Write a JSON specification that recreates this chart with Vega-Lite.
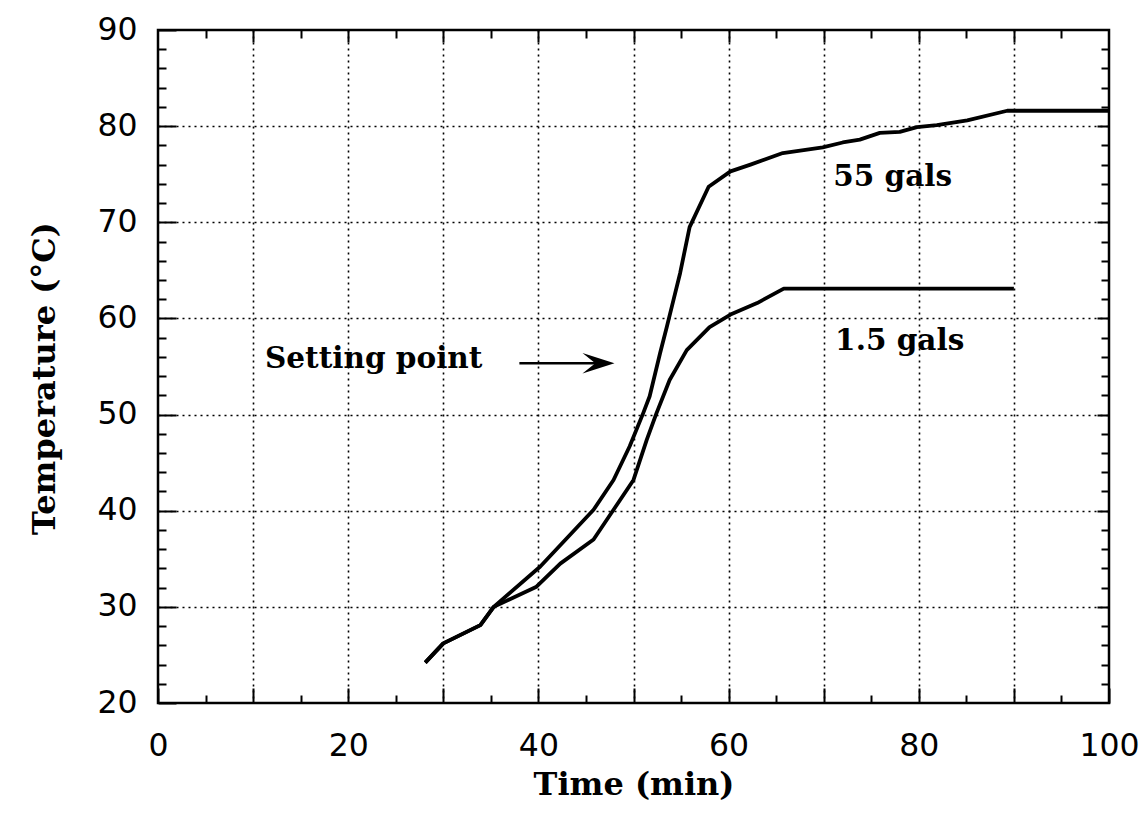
{
  "$schema": "https://vega.github.io/schema/vega-lite/v6.json",
  "width": 951,
  "height": 673,
  "autosize": {"type": "none"},
  "padding": {"left": 158, "top": 30, "right": 36, "bottom": 117},
  "background": "white",
  "config": {
    "view": {"stroke": "black", "strokeWidth": 2.5},
    "axis": {
      "domain": false,
      "labelFont": "DejaVu Sans",
      "labelFontSize": 31.5,
      "labelColor": "black",
      "titleFont": "DejaVu Serif",
      "titleFontWeight": "bold",
      "titleFontSize": 32,
      "titleColor": "black",
      "tickColor": "black",
      "tickWidth": 2,
      "gridColor": "black",
      "gridDash": [2, 4],
      "gridWidth": 1.6
    }
  },
  "datasets": {
    "curves": [
      {"series": "55 gals", "t": 28.1, "temp": 24.2},
      {"series": "55 gals", "t": 30.0, "temp": 26.2},
      {"series": "55 gals", "t": 33.9, "temp": 28.1},
      {"series": "55 gals", "t": 35.3, "temp": 30.0},
      {"series": "55 gals", "t": 40.2, "temp": 34.2},
      {"series": "55 gals", "t": 45.8, "temp": 40.1},
      {"series": "55 gals", "t": 47.9, "temp": 43.2},
      {"series": "55 gals", "t": 49.6, "temp": 46.7},
      {"series": "55 gals", "t": 51.0, "temp": 50.1},
      {"series": "55 gals", "t": 51.7, "temp": 51.9},
      {"series": "55 gals", "t": 52.8, "temp": 56.4},
      {"series": "55 gals", "t": 53.5, "temp": 59.1},
      {"series": "55 gals", "t": 54.2, "temp": 61.9},
      {"series": "55 gals", "t": 54.9, "temp": 64.7},
      {"series": "55 gals", "t": 55.9, "temp": 69.5},
      {"series": "55 gals", "t": 57.9, "temp": 73.7},
      {"series": "55 gals", "t": 60.2, "temp": 75.3},
      {"series": "55 gals", "t": 62.3, "temp": 76.0},
      {"series": "55 gals", "t": 65.7, "temp": 77.2},
      {"series": "55 gals", "t": 69.9, "temp": 77.8},
      {"series": "55 gals", "t": 72.0, "temp": 78.3},
      {"series": "55 gals", "t": 73.8, "temp": 78.6},
      {"series": "55 gals", "t": 75.9, "temp": 79.3},
      {"series": "55 gals", "t": 78.0, "temp": 79.4},
      {"series": "55 gals", "t": 79.8, "temp": 79.9},
      {"series": "55 gals", "t": 81.9, "temp": 80.1},
      {"series": "55 gals", "t": 85.1, "temp": 80.6},
      {"series": "55 gals", "t": 89.3, "temp": 81.6},
      {"series": "55 gals", "t": 100.0, "temp": 81.6},
      {"series": "1.5 gals", "t": 28.1, "temp": 24.2},
      {"series": "1.5 gals", "t": 30.0, "temp": 26.2},
      {"series": "1.5 gals", "t": 33.9, "temp": 28.1},
      {"series": "1.5 gals", "t": 35.3, "temp": 30.0},
      {"series": "1.5 gals", "t": 39.8, "temp": 32.1},
      {"series": "1.5 gals", "t": 42.3, "temp": 34.5},
      {"series": "1.5 gals", "t": 45.8, "temp": 37.0},
      {"series": "1.5 gals", "t": 47.9, "temp": 40.1},
      {"series": "1.5 gals", "t": 50.0, "temp": 43.2},
      {"series": "1.5 gals", "t": 51.4, "temp": 47.4},
      {"series": "1.5 gals", "t": 52.4, "temp": 50.1},
      {"series": "1.5 gals", "t": 53.8, "temp": 53.6},
      {"series": "1.5 gals", "t": 55.6, "temp": 56.7},
      {"series": "1.5 gals", "t": 58.0, "temp": 59.1},
      {"series": "1.5 gals", "t": 60.2, "temp": 60.4},
      {"series": "1.5 gals", "t": 63.0, "temp": 61.6},
      {"series": "1.5 gals", "t": 65.8, "temp": 63.1},
      {"series": "1.5 gals", "t": 90.0, "temp": 63.1}
    ],
    "labels": [
      {"x": 71.0, "y": 73.8, "label": "55 gals"},
      {"x": 71.2, "y": 56.7, "label": "1.5 gals"},
      {"x": 11.25, "y": 54.85, "label": "Setting point"}
    ],
    "arrow": [
      {"x": 38.0, "x2": 46.5, "y": 55.35, "tip": 48.0}
    ]
  },
  "layer": [
    {
      "data": {"name": "curves"},
      "mark": {"type": "line", "color": "black", "strokeWidth": 3.8, "strokeJoin": "round"},
      "encoding": {
        "x": {
          "field": "t", "type": "quantitative",
          "scale": {"domain": [0, 100], "nice": false, "zero": false},
          "axis": {
            "orient": "bottom",
            "title": "Time (min)",
            "titleY": 81,
            "titleBaseline": "middle",
            "values": [0,5,10,15,20,25,30,35,40,45,50,55,60,65,70,75,80,85,90,95,100],
            "labelExpr": "datum.value % 20 === 0 ? datum.label : ''",
            "tickSize": {"condition": {"test": "datum.value % 10 === 0", "value": -15}, "value": -8},
            "gridOpacity": {"condition": {"test": "datum.value % 10 === 0 && datum.value > 0 && datum.value < 100", "value": 1}, "value": 0},
            "labelPadding": 42,
            "labelFlush": false,
            "labelOverlap": false
          }
        },
        "y": {
          "field": "temp", "type": "quantitative",
          "scale": {"domain": [20, 90], "nice": false, "zero": false},
          "axis": {
            "orient": "left",
            "title": "Temperature (°C)",
            "titleX": -114,
            "titleY": 348,
            "titleBaseline": "middle",
            "values": [20,22,24,26,28,30,32,34,36,38,40,42,44,46,48,50,52,54,56,58,60,62,64,66,68,70,72,74,76,78,80,82,84,86,88,90],
            "labelExpr": "datum.value % 10 === 0 ? datum.label : ''",
            "tickSize": {"condition": {"test": "datum.value % 10 === 0", "value": -18}, "value": -8},
            "gridOpacity": {"condition": {"test": "datum.value % 10 === 0 && datum.value > 20 && datum.value < 90", "value": 1}, "value": 0},
            "labelPadding": 39,
            "labelFlush": false,
            "labelOverlap": false
          }
        },
        "detail": {"field": "series", "type": "nominal"}
      }
    },
    {
      "data": {"name": "labels"},
      "mark": {"type": "text", "font": "DejaVu Serif", "fontWeight": "bold", "fontSize": 29.5, "align": "left", "baseline": "alphabetic", "color": "black"},
      "encoding": {
        "x": {
          "field": "x", "type": "quantitative",
          "scale": {"domain": [0, 100], "nice": false, "zero": false},
          "axis": {
            "orient": "top", "title": null, "labels": false, "grid": false,
            "values": [5,10,15,20,25,30,35,40,45,50,55,60,65,70,75,80,85,90,95],
            "tickSize": {"condition": {"test": "datum.value % 10 === 0", "value": -12}, "value": -8}
          }
        },
        "y": {
          "field": "y", "type": "quantitative",
          "scale": {"domain": [20, 90], "nice": false, "zero": false},
          "axis": {
            "orient": "right", "title": null, "labels": false, "grid": false,
            "values": [22,24,26,28,30,32,34,36,38,40,42,44,46,48,50,52,54,56,58,60,62,64,66,68,70,72,74,76,78,80,82,84,86,88],
            "tickSize": {"condition": {"test": "datum.value % 10 === 0", "value": -12}, "value": -8}
          }
        },
        "text": {"field": "label"}
      }
    },
    {
      "data": {"name": "arrow"},
      "mark": {"type": "rule", "color": "black", "strokeWidth": 2.5},
      "encoding": {
        "x": {"field": "x", "type": "quantitative", "scale": {"domain": [0, 100], "nice": false, "zero": false}, "axis": null},
        "x2": {"field": "x2"},
        "y": {"field": "y", "type": "quantitative", "scale": {"domain": [20, 90], "nice": false, "zero": false}, "axis": null}
      }
    },
    {
      "data": {"name": "arrow"},
      "mark": {"type": "point", "shape": "M0,0L-1,-0.32L-0.6,0L-1,0.32Z", "filled": true, "color": "black", "size": 4096, "opacity": 1, "strokeWidth": 0},
      "encoding": {
        "x": {"field": "tip", "type": "quantitative", "scale": {"domain": [0, 100], "nice": false, "zero": false}, "axis": null},
        "y": {"field": "y", "type": "quantitative", "scale": {"domain": [20, 90], "nice": false, "zero": false}, "axis": null}
      }
    }
  ],
  "resolve": {"axis": {"x": "independent", "y": "independent"}}
}
